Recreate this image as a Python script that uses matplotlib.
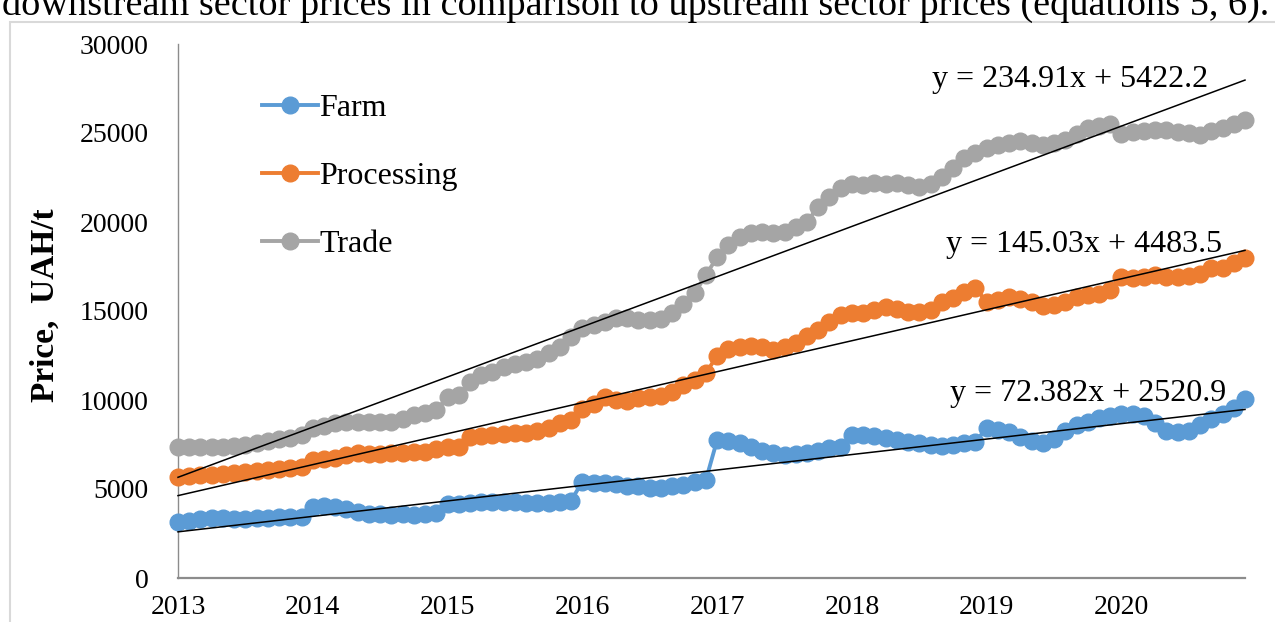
import numpy as np
import matplotlib
matplotlib.use("Agg")
import matplotlib.pyplot as plt
from matplotlib.patches import Rectangle

plt.rcParams['font.family'] = ['Liberation Serif', 'DejaVu Serif']

# monthly prices, Jan 2013 .. Dec 2020 (UAH/t)
farm = [3130, 3220, 3300, 3370, 3370, 3300, 3300, 3370, 3390, 3420, 3445, 3445,
        4010, 4065, 4010, 3875, 3725, 3595, 3595, 3540, 3570, 3540, 3595, 3635,
        4155, 4155, 4230, 4290, 4290, 4290, 4260, 4230, 4230, 4230, 4290, 4345,
        5410, 5355, 5340, 5280, 5170, 5150, 5040, 5040, 5150, 5225, 5410, 5505,
        7750, 7700, 7570, 7340, 7150, 7000, 6900, 6950, 7030, 7150, 7280, 7340,
        8050, 8030, 7980, 7880, 7750, 7660, 7570, 7470, 7415, 7470, 7570, 7660,
        8410, 8300, 8220, 7920, 7700, 7600, 7810, 8280, 8600, 8780, 8970, 9120,
        9200, 9200, 9120, 8690, 8280, 8220, 8280, 8600, 8910, 9200, 9570, 10040]
processing = [5690, 5730, 5785, 5810, 5840, 5880, 5940, 6010, 6070, 6125, 6160, 6220,
              6630, 6685, 6720, 6910, 7000, 6950, 6950, 7000, 7040, 7100, 7100, 7230,
              7340, 7340, 7900, 7980, 8030, 8090, 8130, 8160, 8260, 8450, 8690, 8880,
              9500, 9750, 10150, 10000, 9960, 10100, 10150, 10225, 10470, 10840, 11100, 11500,
              12500, 12850, 13000, 13030, 13000, 12810, 13000, 13190, 13600, 13930, 14400, 14780,
              14870, 14900, 15060, 15240, 15100, 14960, 14960, 15060, 15520, 15710, 16090, 16275,
              15520, 15620, 15770, 15660, 15520, 15280, 15340, 15520, 15800, 15900, 15960, 16180,
              16890, 16840, 16930, 17020, 16930, 16930, 16970, 17080, 17400, 17400, 17710, 17960]
trade = [7340, 7340, 7380, 7380, 7380, 7415, 7470, 7570, 7700, 7790, 7880, 8030,
         8410, 8540, 8690, 8780, 8780, 8750, 8750, 8780, 8910, 9160, 9290, 9440,
         10150, 10280, 11030, 11400, 11590, 11870, 12020, 12150, 12300, 12620, 13000, 13560,
         14030, 14210, 14400, 14590, 14590, 14490, 14490, 14530, 14870, 15390, 15990, 17020,
         18020, 18710, 19170, 19400, 19440, 19360, 19440, 19700, 20020, 20840, 21390, 21890,
         22130, 22080, 22210, 22130, 22210, 22100, 21990, 22150, 22550, 23020, 23580, 23890,
         24140, 24330, 24420, 24570, 24460, 24330, 24420, 24610, 24940, 25260, 25390, 25500,
         24940, 25070, 25110, 25170, 25170, 25070, 25020, 24890, 25110, 25260, 25500, 25730]

years = ['2013', '2014', '2015', '2016', '2017', '2018', '2019', '2020']

# linear trends as printed on the chart (x = month number 1..96)
trends = {'Trade': (234.91, 5422.2), 'Processing': (145.03, 4483.5), 'Farm': (72.382, 2520.9)}

series = [('Farm', farm, '#5B9BD5'),
          ('Processing', processing, '#ED7D31'),
          ('Trade', trade, '#A5A5A5')]

fig = plt.figure(figsize=(12.75, 6.22), dpi=100)
ax = fig.add_axes([178 / 1275, 1 - 578 / 622, 1067 / 1275, 534 / 622])

x = np.arange(len(farm))
for name, vals, col in series:
    ax.plot(x, vals, color=col, lw=2.8, marker='o', ms=12, label=name, clip_on=False, zorder=3)

for name, (a, b) in trends.items():
    xx = np.array([1, len(farm)])
    ax.plot(xx - 1, a * xx + b, color='black', lw=1.1, zorder=4, clip_on=False)

ax.set_xlim(0, len(farm) - 1)
ax.set_ylim(0, 30000)
ax.set_yticks(np.arange(0, 30001, 5000))
ax.set_xticks(np.arange(0, len(farm), 12))
ax.set_xticklabels(years)
ax.tick_params(axis='y', length=0, pad=21, labelsize=20)
ax.tick_params(axis='x', length=0, pad=12, labelsize=20)

for s in ['top', 'right']:
    ax.spines[s].set_visible(False)
ax.spines['left'].set_color('#8c8c8c')
ax.spines['left'].set_linewidth(1.0)
ax.spines['bottom'].set_color('#8c8c8c')
ax.spines['bottom'].set_linewidth(1.6)

ax.set_ylabel('Price,  UAH/t', fontsize=24, fontweight='bold')
ax.yaxis.set_label_coords(-0.11, 0.51)

ax.legend(loc='upper left', bbox_to_anchor=(262 / 1275, 1 - 94 / 622), bbox_transform=fig.transFigure,
          frameon=False, fontsize=23, handlelength=1.75, handletextpad=0.05,
          labelspacing=1.2, borderpad=0, borderaxespad=0)

fig.text(1070 / 1275, 1 - 80 / 622, 'y = 234.91x + 5422.2', fontsize=23, ha='center', va='center')
fig.text(1084 / 1275, 1 - 244 / 622, 'y = 145.03x + 4483.5', fontsize=23, ha='center', va='center')
fig.text(1088 / 1275, 1 - 394 / 622, 'y = 72.382x + 2520.9', fontsize=23, ha='center', va='center')

# chart frame and the cut-off line of text above it
fig.patches.append(Rectangle((10 / 1275, -0.05), 1.2, 1 - 22 / 622 + 0.05, transform=fig.transFigure,
                             fill=False, edgecolor='#d9d9d9', lw=1.5))
fig.text(2 / 1275, 1 - 15 / 622,
         'downstream sector prices in comparison to upstream sector prices (equations 5, 6).',
         fontsize=27.5, ha='left', va='baseline')

fig.savefig('out.png', dpi=100)
